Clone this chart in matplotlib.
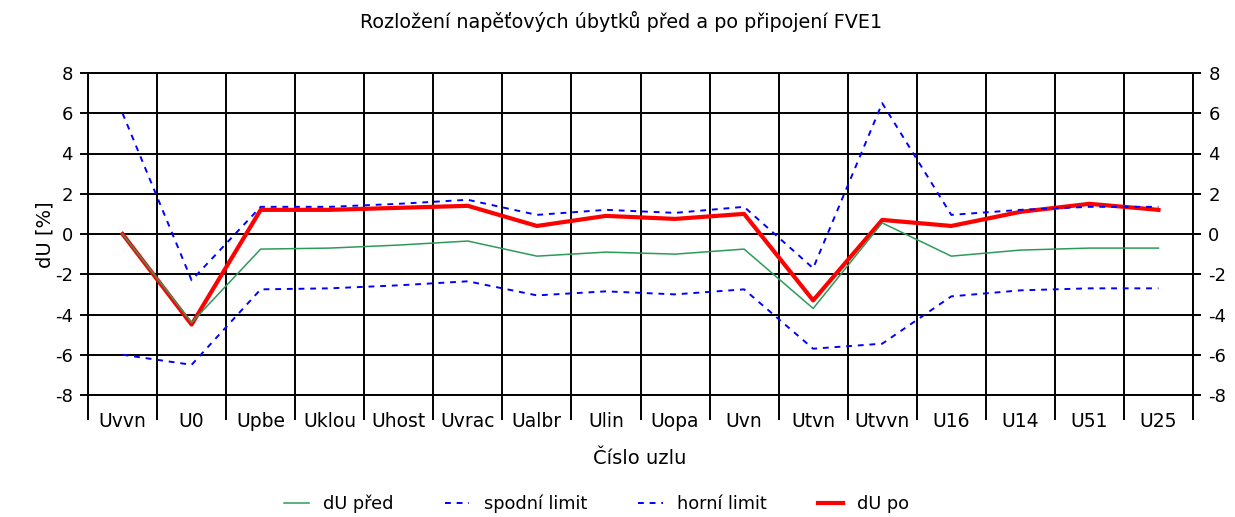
import matplotlib
matplotlib.use("Agg")
import matplotlib.pyplot as plt
from matplotlib.ticker import FixedLocator, NullFormatter

plt.rcParams['font.family'] = ['DejaVu Sans']
plt.rcParams['axes.unicode_minus'] = False

uzly = ["Uvvn", "U0", "Upbe", "Uklou", "Uhost", "Uvrac", "Ualbr", "Ulin",
        "Uopa", "Uvn", "Utvn", "Utvvn", "U16", "U14", "U51", "U25"]
du_pred = [0.0, -4.4, -0.75, -0.7, -0.55, -0.35, -1.1, -0.9,
           -1.0, -0.75, -3.7, 0.55, -1.1, -0.8, -0.7, -0.7]
spodni = [-6.0, -6.5, -2.75, -2.7, -2.55, -2.35, -3.05, -2.85,
          -3.0, -2.75, -5.7, -5.45, -3.1, -2.8, -2.7, -2.7]
horni = [6.0, -2.3, 1.35, 1.35, 1.5, 1.7, 0.95, 1.2,
         1.05, 1.35, -1.7, 6.5, 0.95, 1.2, 1.35, 1.35]
du_po = [0.0, -4.5, 1.2, 1.2, 1.3, 1.4, 0.4, 0.9,
         0.75, 1.0, -3.3, 0.7, 0.4, 1.1, 1.5, 1.2]

x = [i + 0.5 for i in range(len(uzly))]

fig = plt.figure(figsize=(12.35, 5.17), dpi=100)
ax = fig.add_axes([88/1235, 1 - 395/517, (1193-88)/1235, (395-73)/517])

l_po, = ax.plot(x, du_po, color="#ff0000", lw=3.0, label="dU po", zorder=3)
l_pred, = ax.plot(x, du_pred, color="#2e9a5a", lw=1.1, label="dU před", zorder=4)
l_sp, = ax.plot(x, spodni, color="#0000ff", lw=1.4, ls=(0, (3, 3)), label="spodní limit", zorder=5)
l_ho, = ax.plot(x, horni, color="#0000ff", lw=1.4, ls=(0, (3, 3)), label="horní limit", zorder=5)

ax.set_xlim(0, len(uzly))
ax.set_ylim(-8, 8)
ax.set_yticks(range(-8, 9, 2))
ax.xaxis.set_major_locator(FixedLocator(range(0, len(uzly) + 1)))
ax.xaxis.set_major_formatter(NullFormatter())
ax.xaxis.set_minor_locator(FixedLocator(x))
ax.set_xticklabels(uzly, minor=True, fontsize=13.5)
ax.tick_params(axis="x", which="major", length=18, width=1.4, direction="out")
ax.tick_params(axis="x", which="minor", length=0, pad=12)
ax.tick_params(axis="y", length=6, width=1.4, labelsize=13, right=True, labelright=True, pad=5)

ax.grid(True, which="major", color="black", lw=1.4)
for s in ax.spines.values():
    s.set_linewidth(1.4)

fig.text(0.503, 1 - 22/517, "Rozložení napěťových úbytků před a po připojení FVE1",
         ha="center", va="center", fontsize=13.8)
fig.text(45/1235, 1 - 235/517, "dU [%]", rotation=90, ha="center", va="center", fontsize=14)
fig.text(640/1235, 1 - 458/517, "Číslo uzlu", ha="center", va="center", fontsize=14)

fig.legend(handles=[l_pred, l_sp, l_ho, l_po], loc="center", bbox_to_anchor=(0.483, 0.025),
           ncol=4, frameon=False, fontsize=12.75, handlelength=1.4, columnspacing=2.9)

fig.savefig("out.png", dpi=100)
